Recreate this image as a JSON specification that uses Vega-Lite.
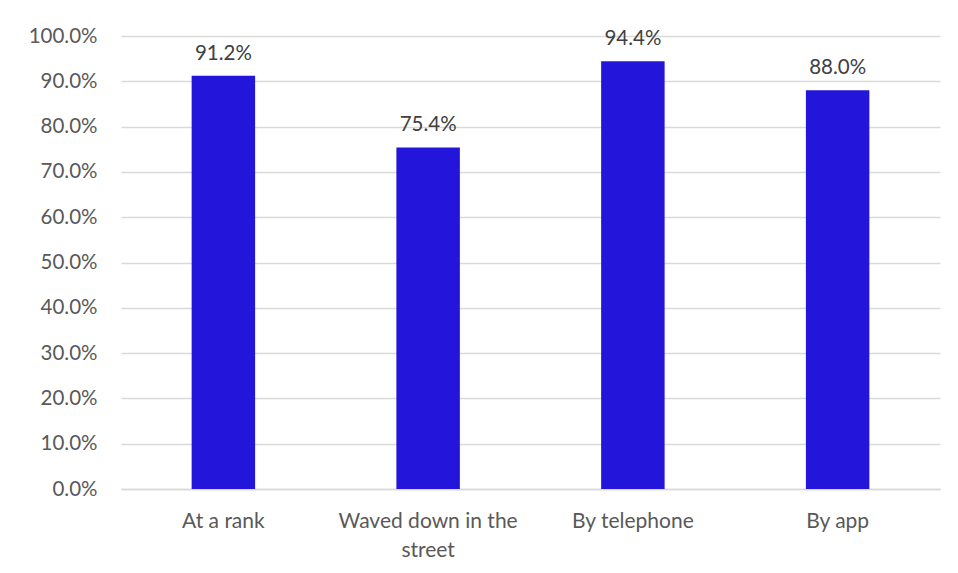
{
  "$schema": "https://vega.github.io/schema/vega-lite/v6.json",
  "width": 819,
  "height": 453,
  "autosize": {"type": "none"},
  "padding": {"left": 121, "top": 36, "right": 18, "bottom": 84},
  "background": "white",
  "data": {
    "values": [
      {"method": "At a rank", "share": 0.912},
      {"method": "Waved down in the street", "share": 0.754},
      {"method": "By telephone", "share": 0.944},
      {"method": "By app", "share": 0.880}
    ]
  },
  "config": {
    "view": {"stroke": null},
    "font": "Lato"
  },
  "encoding": {
    "x": {
      "field": "method",
      "type": "nominal",
      "sort": null,
      "scale": {"paddingInner": 0, "paddingOuter": 0},
      "axis": {
        "title": null,
        "labelAngle": 0,
        "labelFont": "Lato",
        "labelFontSize": 21,
        "labelColor": "#595959",
        "labelPadding": 21,
        "labelLineHeight": 29,
        "labelBaseline": "top",
        "ticks": false,
        "domain": true,
        "domainColor": "#d9d9d9",
        "domainWidth": 1.5,
        "labelExpr": "datum.value == 'Waved down in the street' ? ['Waved down in the', 'street'] : datum.value"
      }
    },
    "y": {
      "field": "share",
      "type": "quantitative",
      "scale": {"domain": [0, 1], "nice": false},
      "axis": {
        "title": null,
        "values": [0, 0.1, 0.2, 0.3, 0.4, 0.5, 0.6, 0.7, 0.8, 0.9, 1.0],
        "format": ".1%",
        "labelFont": "Lato",
        "labelFontSize": 20.5,
        "labelColor": "#595959",
        "labelPadding": 24,
        "ticks": false,
        "domain": false,
        "grid": true,
        "gridColor": "#d9d9d9",
        "gridWidth": 1.5
      }
    }
  },
  "layer": [
    {
      "mark": {"type": "bar", "color": "#2316DA", "width": {"band": 0.31}}
    },
    {
      "mark": {"type": "text", "font": "Lato", "fontSize": 20.5, "color": "#404040", "baseline": "alphabetic", "dy": -16},
      "encoding": {
        "text": {"field": "share", "type": "quantitative", "format": ".1%"}
      }
    }
  ]
}
